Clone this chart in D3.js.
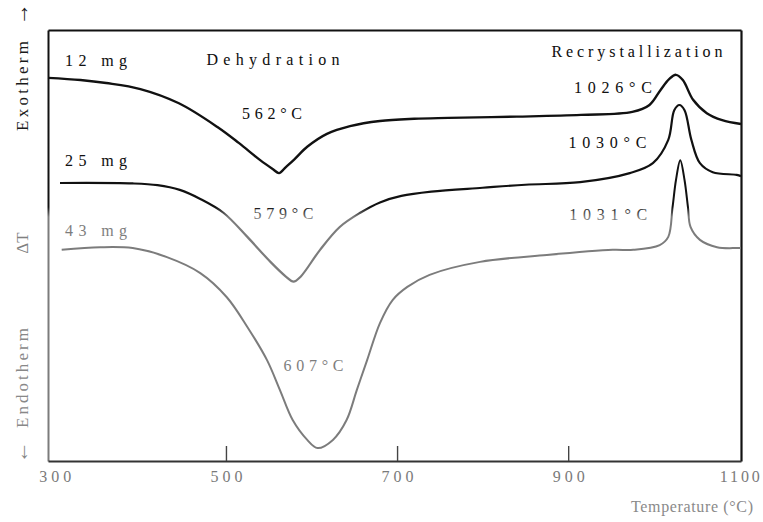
<!DOCTYPE html>
<html>
<head>
<meta charset="utf-8">
<script src="https://cdn.jsdelivr.net/npm/d3@7"></script>
<style>
  html, body { margin: 0; padding: 0; background: #fff; }
  svg { display: block; }
  text { font-family: "Liberation Serif", "DejaVu Serif", serif; }
</style>
</head>
<body>
<script>
// DTA curves of three sample masses: temperature (°C) vs ΔT (arbitrary units)
const temps12 = [292, 330, 360, 400, 445, 490, 515, 540, 555, 562, 570, 580, 595, 618, 645, 680, 720, 760, 840, 915, 975, 995, 1008, 1018, 1026, 1034, 1046, 1062, 1080, 1102];
const dt12    = [88.9, 88.4, 87.7, 86.3, 83.0, 77.5, 73.8, 69.8, 67.7, 66.8, 68.2, 70.0, 72.9, 75.9, 77.7, 78.9, 79.4, 79.6, 79.9, 80.3, 81.0, 82.6, 86.1, 88.6, 89.6, 88.4, 83.8, 80.7, 79.1, 78.2];

const temps25 = [306, 391, 420, 446, 470, 497, 525, 552, 570, 579, 587, 610, 633, 657, 680, 705, 740, 800, 850, 914, 972, 999, 1017, 1024, 1030, 1036, 1044, 1054, 1069, 1097, 1102];
const dt25    = [64.5, 64.4, 64.0, 62.9, 60.8, 57.6, 52.0, 46.2, 42.8, 41.6, 42.7, 49.0, 54.3, 57.6, 60.0, 61.5, 62.5, 63.4, 64.1, 64.7, 66.8, 69.1, 74.5, 81.4, 82.6, 81.4, 74.5, 69.1, 67.0, 66.4, 66.1];

const temps43 = [308, 353, 391, 431, 470, 501, 525, 548, 563, 578, 595, 607, 625, 641, 653, 665, 680, 695, 712, 738, 797, 875, 952, 976, 1007, 1017, 1022, 1026, 1031, 1036, 1040, 1043, 1054, 1074, 1097, 1102];
const dt43    = [49.0, 49.6, 49.4, 47.3, 43.6, 38.0, 31.1, 23.4, 16.5, 9.5, 4.9, 3.0, 4.9, 9.5, 16.5, 23.4, 32.0, 37.4, 40.4, 43.2, 46.2, 47.8, 49.0, 49.0, 50.1, 52.0, 58.9, 65.2, 69.8, 65.2, 58.9, 54.3, 51.3, 49.6, 49.4, 49.4];

const seriesNames = ["12 mg", "25 mg", "43 mg"];
// dehydration minimum and recrystallization maximum of each run (°C)
const dehydrationPeaks = [562, 579, 607];
const recrystPeaks     = [1026, 1030, 1031];
const tickTemps = [300, 500, 700, 900, 1100];

const W = 763, H = 522;
const FS = 16;
const svg = d3.select("body").append("svg").attr("width", W).attr("height", H);
svg.append("rect").attr("width", W).attr("height", H).attr("fill", "#fff");

const x = d3.scaleLinear().domain([292, 1102]).range([48, 741]);
const y = d3.scaleLinear().domain([0, 100]).range([461, 30]);

// ink tone: dark in the upper part of the sheet, lighter lower down
const defs = svg.append("defs");
const grad = defs.append("linearGradient").attr("id", "ink")
  .attr("gradientUnits", "userSpaceOnUse")
  .attr("x1", 0).attr("y1", 0).attr("x2", 0).attr("y2", H);
[[0, "#111"], [207 / H, "#111"], [217 / H, "#7c7c7c"], [1, "#7c7c7c"]].forEach(([o, c]) =>
  grad.append("stop").attr("offset", o).attr("stop-color", c));

// frame
svg.append("g").attr("transform", "translate(0,30)")
  .call(d3.axisTop(x).tickValues([]).tickSizeOuter(0))
  .call(g => g.select(".domain").attr("stroke", "#111").attr("stroke-width", 2));
svg.append("g").attr("transform", "translate(741,0)")
  .call(d3.axisRight(y).tickValues([]).tickSizeOuter(0))
  .call(g => g.select(".domain").attr("stroke", "#111").attr("stroke-width", 2.2));
svg.append("g").attr("transform", "translate(48,0)")
  .call(d3.axisLeft(y).tickValues([]).tickSizeOuter(0))
  .call(g => g.select(".domain").attr("stroke", "url(#ink)").attr("stroke-width", 2));

const xAxis = svg.append("g").attr("transform", "translate(0,461)")
  .call(d3.axisBottom(x).tickValues(tickTemps).tickFormat(d3.format("d"))
    .tickSize(-15).tickPadding(10).tickSizeOuter(0));
xAxis.select(".domain").attr("stroke", "#333").attr("stroke-width", 2);
xAxis.selectAll(".tick line").attr("stroke", "#444").attr("stroke-width", 1.4)
  .attr("display", d => (d === 300 || d === 1100) ? "none" : null);
xAxis.selectAll(".tick text")
  .attr("font-size", FS).attr("fill", "#7a7a7a")
  .attr("font-family", "Liberation Serif, DejaVu Serif, serif")
  .attr("textLength", d => d === 1100 ? 40 : 32).attr("lengthAdjust", "spacing");

svg.append("text")
  .attr("x", 692).attr("y", 512).attr("text-anchor", "middle")
  .attr("font-size", FS).attr("fill", "#8a8a8a")
  .attr("textLength", 122).attr("lengthAdjust", "spacing")
  .text("Temperature (°C)");

// y-axis caption, read bottom to top
const yCap = (txt, cy, len, col, size = FS + 1) => {
  const t = svg.append("text")
    .attr("transform", `translate(28,${cy}) rotate(-90)`)
    .attr("text-anchor", "middle").attr("font-size", size).attr("fill", col)
    .text(txt);
  if (len) t.attr("textLength", len).attr("lengthAdjust", "spacing");
};
yCap("Exotherm", 86, 90, "#1a1a1a");
yCap("→", 14, null, "#1a1a1a", 22);
yCap("ΔT", 243, null, "#808080");
yCap("Endotherm", 378, 100, "#888");
yCap("←", 452, null, "#888", 22);

// curves
const runs = [[temps12, dt12], [temps25, dt25], [temps43, dt43]]
  .map(([t, v]) => t.map((tt, i) => [tt, v[i]]));
const line = d3.line().x(d => x(d[0])).y(d => y(d[1])).curve(d3.curveCatmullRom.alpha(0.5));
const widths = [2.4, 2.2, 2.0];

svg.append("g").selectAll("path").data(runs).join("path")
  .attr("d", line)
  .attr("fill", "none")
  .attr("stroke", "url(#ink)")
  .attr("stroke-width", (d, i) => widths[i])
  .attr("stroke-linejoin", "round");

const label = (txt, px, py, len, anchor = "middle") =>
  svg.append("text").attr("x", px).attr("y", py)
    .attr("text-anchor", anchor).attr("font-size", FS)
    .attr("fill", "url(#ink)")
    .attr("textLength", len).attr("lengthAdjust", "spacing")
    .text(txt);

// sample mass next to the start of each curve
const nameLift = [12, 17, 14];
runs.forEach((r, i) => label(seriesNames[i], 65, y(r[0][1]) - nameLift[i], 62, "start"));

// event labels, placed relative to the extremum they name
const peakValue = (r, t) => r.find(d => d[0] === t)[1];
const dehydOffset = [[-7, -54], [-10, -63], [-4, -77]];
const recrOffset  = [[-63, 18], [-72, 43], [-72, 60]];
runs.forEach((r, i) => {
  const tm = dehydrationPeaks[i], tp = recrystPeaks[i];
  label(`${tm}°C`, x(tm) + dehydOffset[i][0], y(peakValue(r, tm)) + dehydOffset[i][1], 60);
  label(`${tp}°C`, x(tp) + recrOffset[i][0], y(peakValue(r, tp)) + recrOffset[i][1], 78);
});

label("Dehydration", 273, 65, 133);
label("Recrystallization", 637, 57, 171);
</script>
</body>
</html>
